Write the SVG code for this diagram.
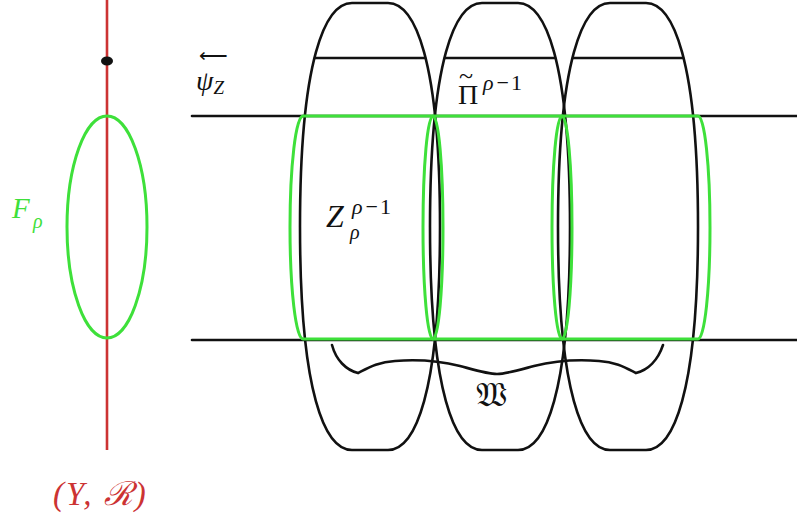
<svg xmlns="http://www.w3.org/2000/svg" width="797" height="521" viewBox="0 0 797 521">
<style>
.blk{fill:none;stroke:#111;stroke-width:2.6;stroke-linecap:round}
.grn{fill:none;stroke:#3ee03a;stroke-width:3}
.red{fill:none;stroke:#cc3333;stroke-width:2.6}
.m{font-family:"Liberation Serif","DejaVu Serif",serif;font-style:italic;fill:#111}
.r{font-family:"Liberation Serif","DejaVu Serif",serif;fill:#111}
.up{font-style:normal}
</style>
<defs>
<path id="cap" d="M -18,3 L 18,3 C 45,3 70,60 70,227 C 70,394 45,450 18,450 L -18,450 C -45,450 -70,394 -70,227 C -70,60 -45,3 -18,3 Z"/>
</defs>
<g id="base">
<line class="red" x1="107" y1="0" x2="107" y2="450"/>
<ellipse cx="107" cy="61" rx="6" ry="4.5" fill="#111"/>
<ellipse class="grn" cx="107" cy="227" rx="40" ry="111"/>
</g>
<g id="connectors">
<line class="blk" x1="192" y1="116" x2="797" y2="116"/>
<line class="blk" x1="192" y1="340" x2="797" y2="340"/>
</g>
<g id="capsule1">
<use href="#cap" class="blk" x="370"/>
<line class="blk" x1="315" y1="58" x2="425" y2="58"/>
</g>
<g id="capsule2">
<use href="#cap" class="blk" x="500"/>
<line class="blk" x1="445" y1="58" x2="555" y2="58"/>
</g>
<g id="capsule3">
<use href="#cap" class="blk" x="628"/>
<line class="blk" x1="573" y1="58" x2="683" y2="58"/>
</g>
<g id="cylinder">
<line class="grn" x1="303" y1="116" x2="698" y2="116"/>
<line class="grn" x1="303" y1="339" x2="698" y2="339"/>
<path class="grn" d="M 303,116 A 13,111.5 0 0 0 303,339"/>
<path class="grn" d="M 698,116 A 12,111.5 0 0 1 698,339"/>
<ellipse class="grn" cx="433" cy="227.5" rx="10" ry="111.5"/>
<ellipse class="grn" cx="562" cy="227.5" rx="10" ry="111.5"/>
</g>
<g id="brace">
<path class="blk" stroke-width="2.2" d="M 332,345 C 336,360 346,370 358,373 C 368,368 378,362 395,361 C 420,359 440,361 460,366 C 475,370 488,374 497,374 C 506,374 519,370 534,366 C 554,361 574,359 599,361 C 616,362 626,368 636,373 C 648,370 658,360 663,345"/>
</g>
<g id="labels">
<text class="m" font-size="28"><tspan class="up" x="199" y="62" font-family="DejaVu Sans, sans-serif" font-size="20" font-weight="200">⟵</tspan><tspan x="196" y="90">ψ</tspan><tspan font-size="19" dy="4">Z</tspan></text>
<text class="r" font-size="28"><tspan x="458" y="104">Π</tspan><tspan x="459" y="84" font-size="26">~</tspan><tspan class="m" x="483" y="90" font-size="22">ρ</tspan><tspan dx="3" font-size="22">−</tspan><tspan dx="2" font-size="22">1</tspan></text>
<text class="m" font-size="32"><tspan x="326" y="227">Z</tspan><tspan x="350" y="239" font-size="20">ρ</tspan><tspan x="352" y="214" font-size="22">ρ</tspan><tspan class="up" dx="3" font-size="22">−</tspan><tspan class="up" dx="2" font-size="22">1</tspan></text>
<text class="m" font-size="29" style="fill:#3ee03a"><tspan x="12" y="218">F</tspan><tspan x="33" y="228" font-size="20">ρ</tspan></text>
<text class="m" x="53" y="505" font-size="33" letter-spacing="2" style="fill:#cc3333">(Y, ℛ)</text>
<text x="476" y="406" font-size="34" font-family="DejaVu Serif, DejaVu Sans, serif" fill="#111">𝔚</text>
</g>
</svg>
